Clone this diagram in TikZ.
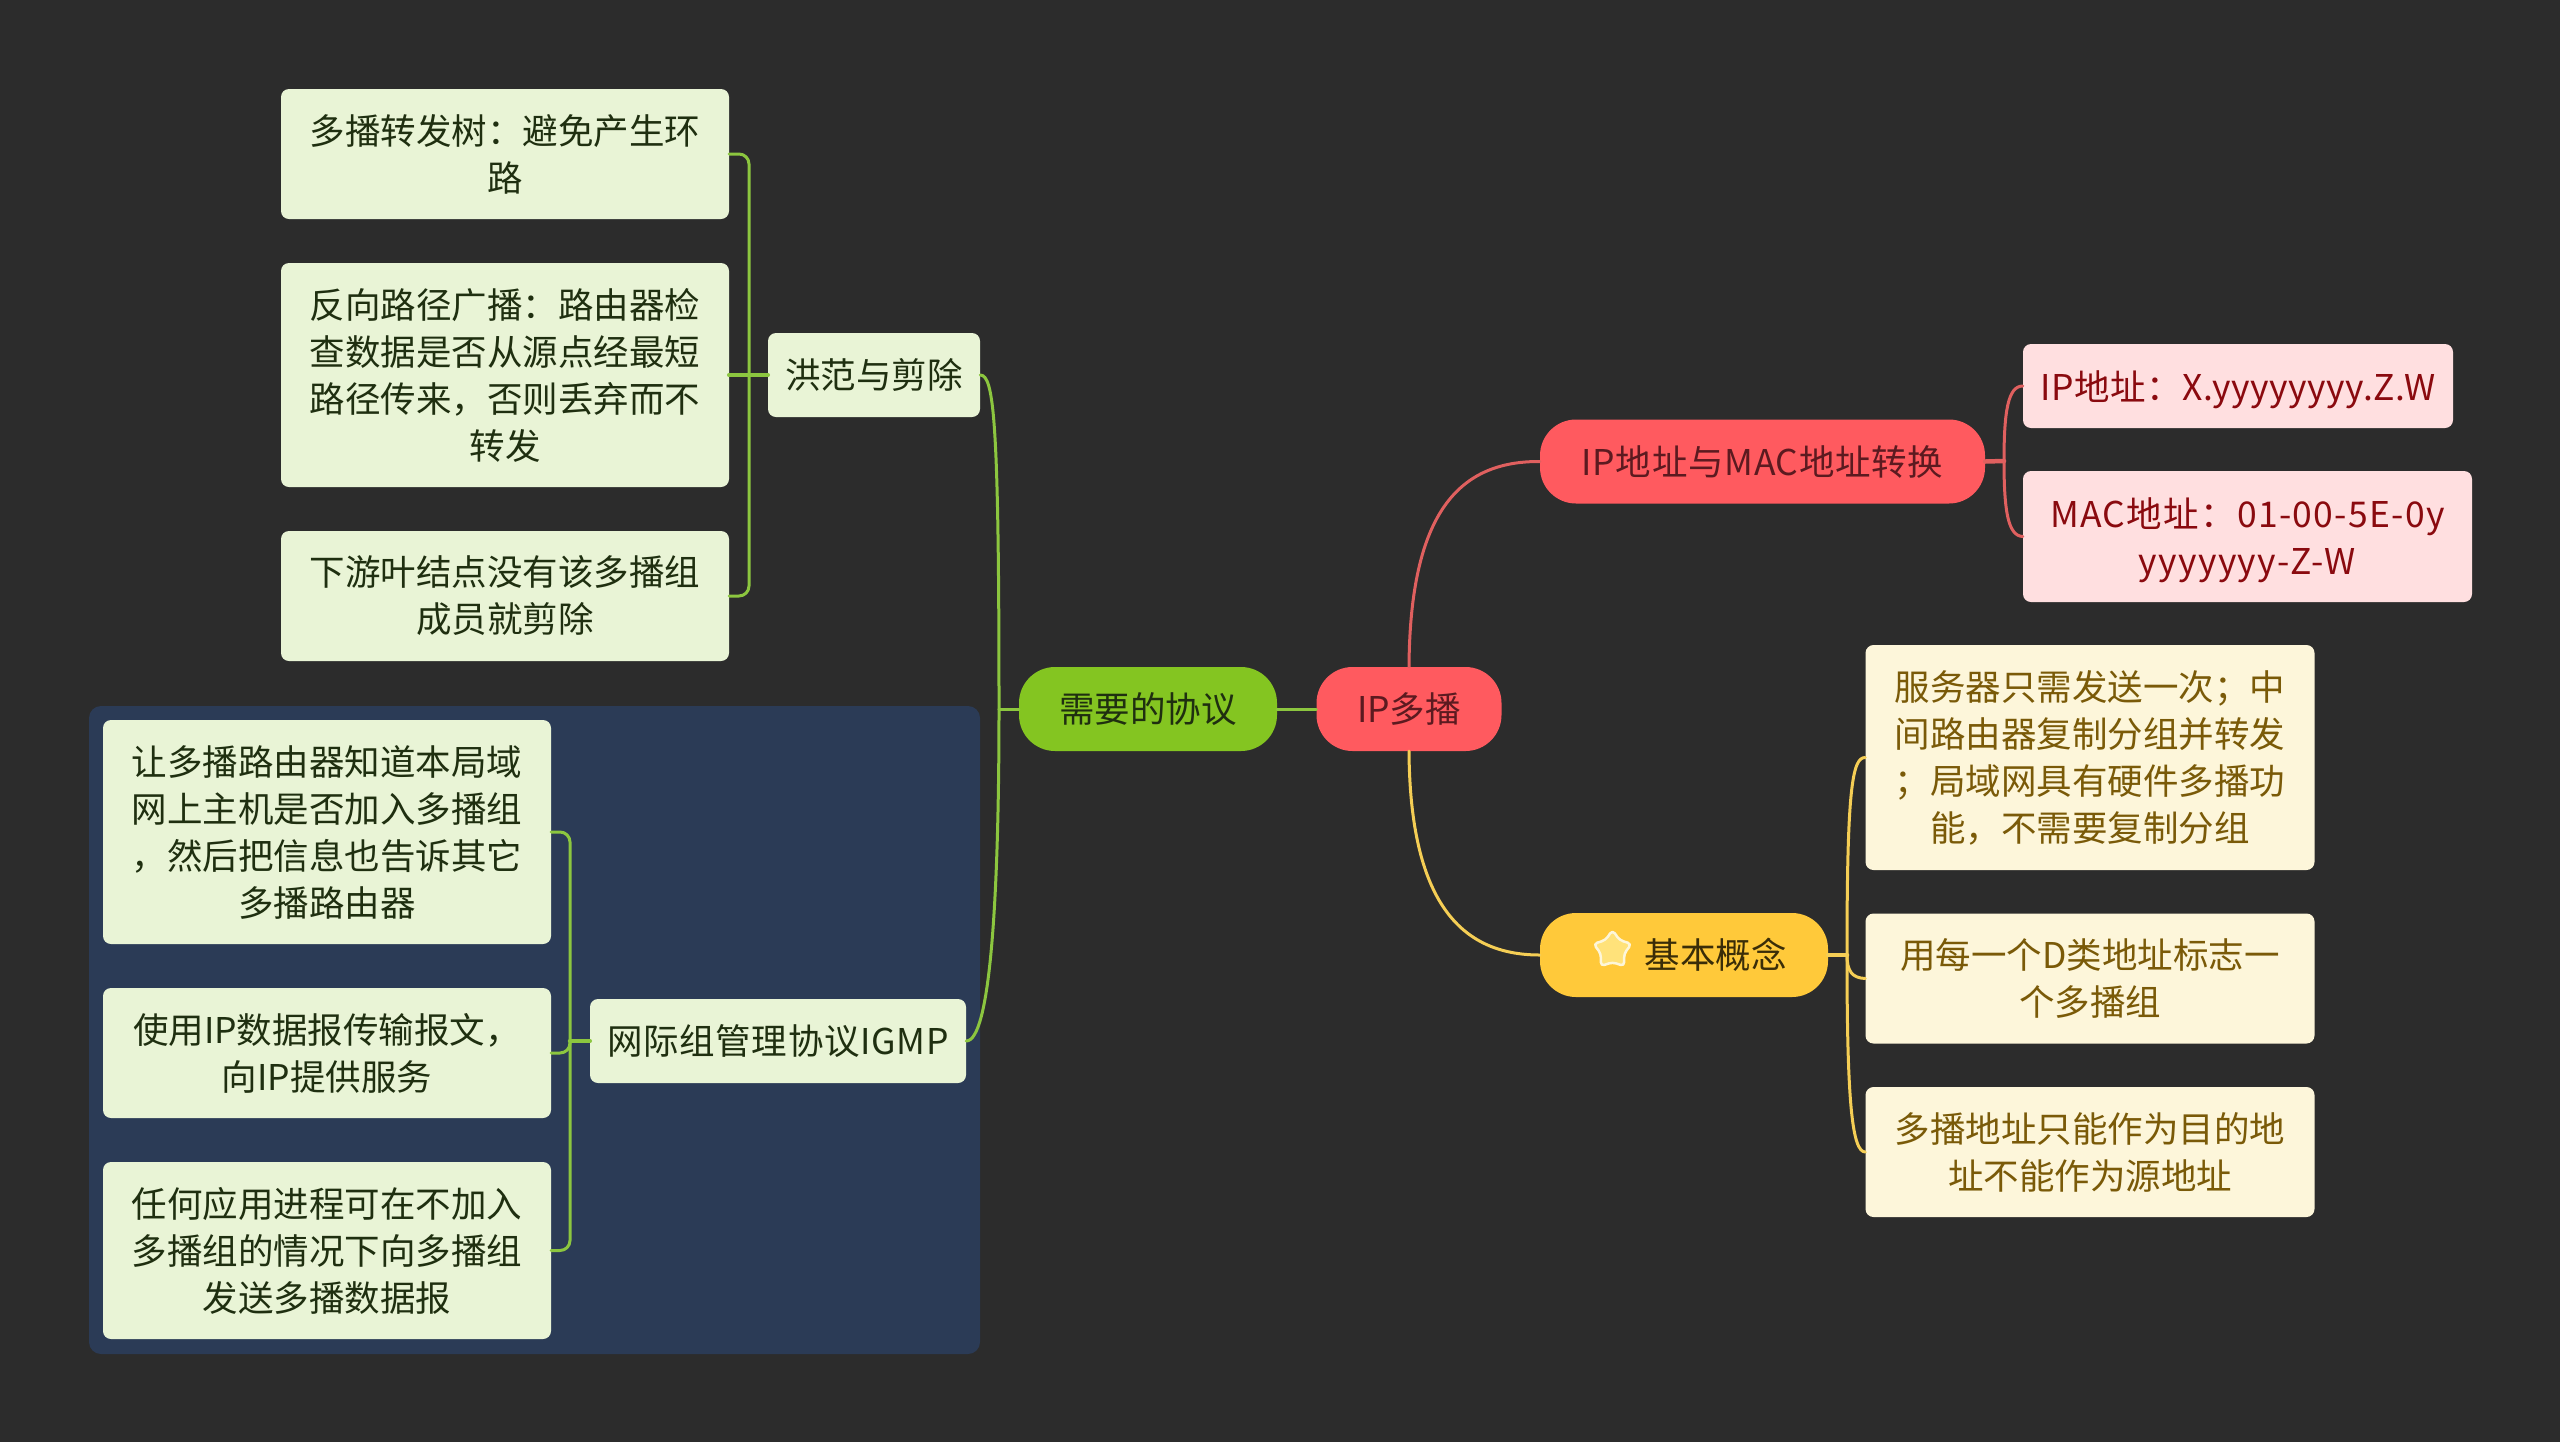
\documentclass[tikz,border=0pt]{standalone}
\usepackage{fontspec}
\setmainfont{Noto Sans CJK SC}
\usetikzlibrary{shapes.geometric}
\definecolor{bgdark}{HTML}{2C2C2C}
\definecolor{panelblue}{HTML}{2B3B56}
\definecolor{greenmain}{HTML}{84C521}
\definecolor{greenlink}{HTML}{8CC63F}
\definecolor{greenpale}{HTML}{E9F4D6}
\definecolor{greenink}{HTML}{1F2F10}
\definecolor{redmain}{HTML}{FF5A5F}
\definecolor{redlink}{HTML}{E0605F}
\definecolor{redpale}{HTML}{FFDFE0}
\definecolor{redink}{HTML}{8A0A0F}
\definecolor{redtext}{HTML}{5C1A20}
\definecolor{yellowmain}{HTML}{FFC93A}
\definecolor{yellowlink}{HTML}{F5CE55}
\definecolor{yellowpale}{HTML}{FDF6DA}
\definecolor{yellowink}{HTML}{7A5A08}
\definecolor{yellowtext}{HTML}{3A2D08}
\definecolor{starfill}{HTML}{FFE27A}
\newcommand{\pushdown}{\rule{0pt}{37pt}}
\begin{document}
\begin{tikzpicture}[
			x=1pt, y=-1pt,
			line cap=round, line join=round,
			box/.style={inner sep=0pt, align=center, rounded corners=8pt, font=\fontsize{35.5}{47}\selectfont},
			tracked/.style={font=\fontsize{35.5}{47}\selectfont\addfontfeature{LetterSpace=#1}},
			leafgreen/.style={box, fill=greenpale, text=greenink, minimum width=448pt},
			leafred/.style={box, fill=redpale, text=redink},
			leafyellow/.style={box, fill=yellowpale, text=yellowink, minimum width=449pt},
			pill/.style={box, rounded corners=36pt, minimum height=84pt},
			linkgreen/.style={draw=greenlink, line width=3pt},
			linkred/.style={draw=redlink, line width=3pt},
			linkyellow/.style={draw=yellowlink, line width=3pt},
			stub/.style={line width=4.5pt}
			]
			
			\useasboundingbox (0,-1) rectangle (2560,1440);
			\fill[bgdark] (-5,-5) rectangle (2565,1445);
			
			\node[rounded corners=12pt, fill=panelblue, inner sep=0pt, minimum width=891pt, minimum height=648pt] (panel) at (534.5,1029) {};
			
			\node[pill, fill=redmain, text=redtext, minimum width=185pt] (root) at (1409,708) {IP多播};
			\node[pill, fill=greenmain, text=greenink, minimum width=258pt] (need) at (1148,708) {需要的协议};
			\node[pill, tracked=2, fill=redmain, text=redtext, minimum width=445pt] (conv) at (1762.5,460.5) {IP地址与MAC地址转换};
			\node[pill, fill=yellowmain, text=yellowtext, minimum width=288pt] (base) at (1684,954) {\hspace*{63pt}基本概念};
			\node[star, star points=5, star point ratio=1.65, rounded corners=4pt, fill=starfill, draw=yellowpale, line width=2.5pt, inner sep=0pt, minimum size=40pt] (staricon) at (1612.5,949) {};
			
			\node[leafgreen, minimum width=212pt, minimum height=84pt] (flood) at (874,374) {洪范与剪除};
			\node[leafgreen, minimum height=130pt] (f1) at (505,153) {多播转发树：避免产生环\\路};
			\node[leafgreen, minimum height=224pt] (f2) at (505,374) {反向路径广播：路由器检\\查数据是否从源点经最短\\路径传来，否则丢弃而不\\转发};
			\node[leafgreen, minimum height=130pt] (f3) at (505,595) {下游叶结点没有该多播组\\成员就剪除};
			
			\node[leafgreen, tracked=2, minimum width=376pt, minimum height=84pt] (igmp) at (778,1040) {网际组管理协议IGMP};
			\node[leafgreen, minimum height=224pt] (g1) at (327,831) {让多播路由器知道本局域\\网上主机是否加入多播组\\，然后把信息也告诉其它\\多播路由器};
			\node[leafgreen, minimum height=130pt] (g2) at (327,1052) {使用IP数据报传输报文，\\向IP提供服务};
			\node[leafgreen, minimum height=177pt] (g3) at (327,1249.5) {任何应用进程可在不加入\\多播组的情况下向多播组\\发送多播数据报};
			
			\node[leafred, tracked=1.4, minimum width=430pt, minimum height=84pt] (p1) at (2238,385) {\pushdown IP地址：X.yyyyyyyy.Z.W};
			\node[leafred, tracked=3.7, minimum width=449pt, minimum height=131pt] (p2) at (2247.5,535.5) {\pushdown MAC地址：01-00-5E-0y\\yyyyyyy-Z-W};
			
			\node[leafyellow, minimum height=225pt] (b1) at (2090,756.5) {服务器只需发送一次；中\\间路由器复制分组并转发\\；局域网具有硬件多播功\\能，不需要复制分组};
			\node[leafyellow, minimum height=130pt] (b2) at (2090,977.5) {用每一个D类地址标志一\\个多播组};
			\node[leafyellow, minimum height=130pt] (b3) at (2090,1151) {多播地址只能作为目的地\\址不能作为源地址};
			
			\coordinate (jneed) at (999,708);
			\coordinate (jflood) at (749,374);
			\coordinate (jigmp) at (570,1040);
			\coordinate (jconv) at (2004,460);
			\coordinate (jbase) at (1847,954);
			
			\draw[linkgreen] (root.west)--(need.east);
			\draw[linkgreen] (need.west)--(jneed);
			\draw[linkgreen] (flood.east) .. controls (994,374) and (999,420) .. (jneed);
			\draw[linkgreen] (igmp.east) .. controls (990,1040) and (999,900) .. (jneed);
			
			\draw[linkgreen, rounded corners=10pt] (f1.east) -| (jflood) |- (f3.east);
			\draw[linkgreen, stub] (f2.east)--(flood.west);
			
			\draw[linkgreen, rounded corners=10pt] (g1.east) -| (jigmp) |- (g3.east);
			\draw[linkgreen, rounded corners=10pt] (g2.east) -| (jigmp);
			\draw[linkgreen, stub] (jigmp)--(igmp.west);
			
			\draw[linkred] (root.north) .. controls (1410,510) and (1460,460) .. (conv.west);
			\draw[linkred, stub] (conv.east)--(jconv);
			\draw[linkred] (p1.west) .. controls (2008,385) and (2004,410) .. (jconv);
			\draw[linkred] (p2.west) .. controls (2008,535) and (2004,510) .. (jconv);
			
			\draw[linkyellow] (root.south) .. controls (1410,900) and (1460,954) .. (base.west);
			\draw[linkyellow, stub] (base.east)--(jbase);
			\draw[linkyellow] (b1.west) .. controls (1852,756) and (1847,790) .. (jbase);
			\draw[linkyellow] (b2.west) .. controls (1852,977) and (1847,970) .. (jbase);
			\draw[linkyellow] (b3.west) .. controls (1852,1151) and (1847,1100) .. (jbase);
		\end{tikzpicture}
\end{document}
